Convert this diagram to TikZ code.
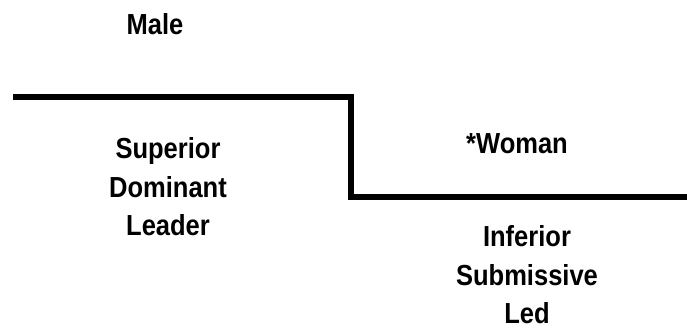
\documentclass[tikz,border=0pt]{standalone}
\usepackage{fontspec}
\setmainfont[FakeStretch=0.88]{Liberation Sans}
\begin{document}
\begin{tikzpicture}[x=1pt,y=-1pt,
  lbl/.style={font=\bfseries\fontsize{29}{38.5}\selectfont, align=center, inner sep=0pt},
  stair/.style={line width=6pt, line join=miter}]
\useasboundingbox (0,0) rectangle (687,330);
\coordinate (a) at (13,97);
\coordinate (b) at (351,97);
\coordinate (c) at (351,197);
\coordinate (d) at (690,197);
\draw[stair] (a) -- (b) -- (c) -- (d);
\node[lbl] (male) at (155,24.5) {Male};
\node[lbl] (woman) at (517,144) {*Woman};
\node[lbl] (sup) at (168,187) {Superior\\Dominant\\Leader};
\node[lbl] (inf) at (527,275) {Inferior\\Submissive\\Led};
\end{tikzpicture}
\end{document}
